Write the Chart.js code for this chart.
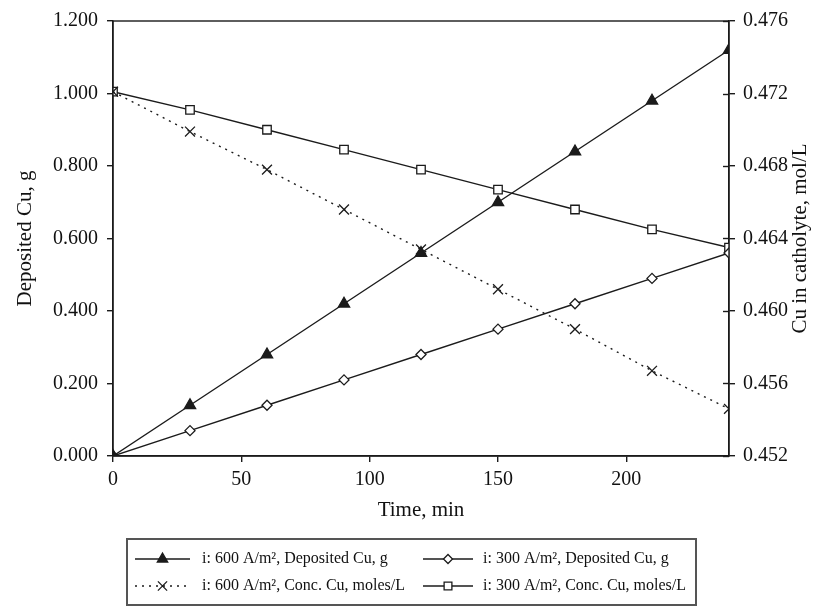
<!DOCTYPE html>
<html>
<head>
<meta charset="utf-8">
<script src="https://cdn.jsdelivr.net/npm/chart.js@4/dist/chart.umd.min.js"></script>
<style>
  html, body { margin: 0; padding: 0; background: #fff; }
  #wrap { width: 825px; height: 609px; }
</style>
</head>
<body>
<div id="wrap"><canvas id="c" width="825" height="609"></canvas></div>
<script>
// Electrowinning run: copper deposited on the cathode and copper left in the catholyte
const timeMin = [0, 30, 60, 90, 120, 150, 180, 210, 240];
const deposited600 = [0, 0.14, 0.28, 0.42, 0.56, 0.70, 0.84, 0.98, 1.12];
const deposited300 = [0, 0.07, 0.14, 0.21, 0.28, 0.35, 0.42, 0.49, 0.56];
const conc600 = [0.4721, 0.4699, 0.4678, 0.4656, 0.4634, 0.4612, 0.4590, 0.4567, 0.4546];
const conc300 = [0.4721, 0.4711, 0.4700, 0.4689, 0.4678, 0.4667, 0.4656, 0.4645, 0.4635];

const timeTicks = [0, 50, 100, 150, 200];
const depositTicks = [0, 0.2, 0.4, 0.6, 0.8, 1.0, 1.2];
const concTicks = [0.452, 0.456, 0.460, 0.464, 0.468, 0.472, 0.476];

const seriesNames = [
  'i: 600 A/m\u00B2, Deposited Cu, g',
  'i: 300 A/m\u00B2, Deposited Cu, g',
  'i: 600 A/m\u00B2, Conc. Cu, moles/L',
  'i: 300 A/m\u00B2, Conc. Cu, moles/L'
];
const xTitle = 'Time, min';
const leftTitle = 'Deposited Cu, g';
const rightTitle = 'Cu in catholyte, mol/L';

const INK = '#1b1b1b';
const SERIF = '"Liberation Serif", "Times New Roman", serif';

const pairs = ys => timeMin.map((t, i) => ({ x: t, y: ys[i] }));

const datasets = [
  { label: seriesNames[0], data: pairs(deposited600), yAxisID: 'y',
    pointStyle: 'triangle', pointRadius: 6.5, backgroundColor: INK, borderDash: [] },
  { label: seriesNames[1], data: pairs(deposited300), yAxisID: 'y',
    pointStyle: 'rectRot', pointRadius: 5, backgroundColor: '#fff', borderDash: [] },
  { label: seriesNames[2], data: pairs(conc600), yAxisID: 'y2',
    pointStyle: 'crossRot', pointRadius: 7, backgroundColor: '#fff', borderDash: [2, 5] },
  { label: seriesNames[3], data: pairs(conc300), yAxisID: 'y2',
    pointStyle: 'rect', pointRadius: 6, backgroundColor: '#fff', borderDash: [] }
].map(d => Object.assign({
  borderColor: INK, borderWidth: 1.4, pointBorderColor: INK,
  pointBackgroundColor: d.backgroundColor, pointBorderWidth: 1.3,
  showLine: true, fill: false, tension: 0
}, d));

// Frame, inward ticks on the right axis, axis titles and the boxed legend
const decor = {
  id: 'decor',
  afterDraw(chart) {
    const { ctx, chartArea: a, scales } = chart;
    ctx.save();
    ctx.strokeStyle = INK;
    ctx.lineWidth = 1.4;
    ctx.strokeRect(a.left, a.top, a.right - a.left, a.bottom - a.top);

    // right axis ticks cross the axis line
    concTicks.forEach(v => {
      const py = Math.round(scales.y2.getPixelForValue(v)) + 0.5;
      ctx.beginPath();
      ctx.moveTo(a.right - 6, py);
      ctx.lineTo(a.right, py);
      ctx.stroke();
    });

    // axis titles
    ctx.fillStyle = '#111';
    ctx.font = '21px ' + SERIF;
    ctx.textAlign = 'center';
    ctx.textBaseline = 'middle';
    ctx.fillText(xTitle, (a.left + a.right) / 2, 510);
    const midY = (a.top + a.bottom) / 2;
    ctx.save();
    ctx.translate(25, midY);
    ctx.rotate(-Math.PI / 2);
    ctx.fillText(leftTitle, 0, 0);
    ctx.restore();
    ctx.save();
    ctx.translate(800, midY);
    ctx.rotate(-Math.PI / 2);
    ctx.fillText(rightTitle, 0, 0);
    ctx.restore();

    // legend
    ctx.font = '16px ' + SERIF;
    ctx.textAlign = 'left';
    const cols = [{ x0: 135, x1: 190, tx: 202 }, { x0: 423, x1: 473, tx: 483 }];
    const rows = [559, 586];
    const widest = Math.max(ctx.measureText(seriesNames[1]).width, ctx.measureText(seriesNames[3]).width);
    const box = { left: 127, top: 539, right: Math.round(cols[1].tx + widest + 10), bottom: 605 };
    ctx.strokeStyle = '#555';
    ctx.lineWidth = 2;
    ctx.strokeRect(box.left, box.top, box.right - box.left, box.bottom - box.top);
    datasets.forEach((d, i) => {
      const c = cols[i % 2], ry = rows[Math.floor(i / 2)];
      ctx.strokeStyle = INK;
      ctx.lineWidth = d.borderWidth;
      ctx.setLineDash(d.borderDash);
      ctx.beginPath();
      ctx.moveTo(c.x0, ry);
      ctx.lineTo(c.x1, ry);
      ctx.stroke();
      ctx.setLineDash([]);
      ctx.fillStyle = d.pointBackgroundColor;
      ctx.lineWidth = d.pointBorderWidth;
      Chart.helpers.drawPoint(ctx, { pointStyle: d.pointStyle, radius: d.pointRadius - 0.5, rotation: 0, borderWidth: d.pointBorderWidth }, (c.x0 + c.x1) / 2, ry);
      ctx.fillStyle = '#111';
      ctx.fillText(d.label, c.tx, ry);
    });
    ctx.restore();
  }
};

const tickFont = { family: SERIF, size: 20 };

new Chart(document.getElementById('c'), {
  type: 'scatter',
  data: { datasets },
  options: {
    responsive: false,
    devicePixelRatio: 1,
    animation: false,
    layout: { padding: { top: 16, left: 0, right: 0, bottom: 0 } },
    plugins: { legend: { display: false }, tooltip: { enabled: false } },
    scales: {
      x: {
        type: 'linear', min: 0, max: 240,
        afterBuildTicks: s => { s.ticks = timeTicks.map(v => ({ value: v })); },
        afterFit: s => { s.height = 153; },
        grid: { drawOnChartArea: false, drawTicks: true, tickLength: 6, color: INK, lineWidth: 1.4 },
        border: { display: true, color: INK, width: 1.4 },
        ticks: { font: tickFont, color: '#111', padding: 6, maxRotation: 0, autoSkip: false }
      },
      y: {
        position: 'left', min: 0, max: 1.2,
        afterBuildTicks: s => { s.ticks = depositTicks.map(v => ({ value: v })); },
        afterFit: s => { s.width = 113; },
        grid: { drawOnChartArea: false, drawTicks: true, tickLength: 6, color: INK, lineWidth: 1.4 },
        border: { display: true, color: INK, width: 1.4 },
        ticks: { font: tickFont, color: '#111', padding: 9, callback: v => v.toFixed(3) }
      },
      y2: {
        position: 'right', min: 0.452, max: 0.476,
        afterBuildTicks: s => { s.ticks = concTicks.map(v => ({ value: v })); },
        afterFit: s => { s.width = 96; },
        grid: { drawOnChartArea: false, drawTicks: true, tickLength: 6, color: INK, lineWidth: 1.4 },
        border: { display: true, color: INK, width: 1.4 },
        ticks: { font: tickFont, color: '#111', padding: 8, callback: v => v.toFixed(3) }
      }
    }
  },
  plugins: [decor]
});
</script>
</body>
</html>
